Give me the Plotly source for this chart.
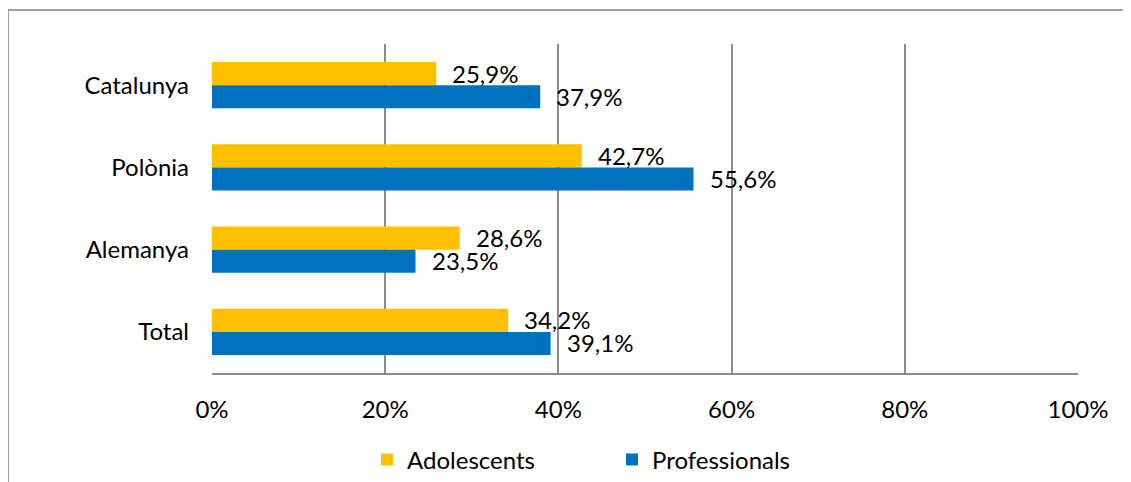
import plotly.graph_objects as go

categories = ["Catalunya", "Polònia", "Alemanya", "Total"]
adolescents = [25.9, 42.7, 28.6, 34.2]
professionals = [37.9, 55.6, 23.5, 39.1]
tick_vals = [0, 20, 40, 60, 80, 100]
tick_text = ["0%", "20%", "40%", "60%", "80%", "100%"]

YELLOW = "#FFC000"
BLUE = "#0070C0"
GRID = "#8C8C8C"
FONT = "Lato"
FS = 24

def fmt(v):
    return f"{v:.1f}".replace(".", ",") + "%"

fig = go.Figure()
fig.add_trace(go.Bar(y=categories, x=adolescents, orientation="h", name="Adolescents",
                     marker=dict(color=YELLOW, line=dict(width=0))))
fig.add_trace(go.Bar(y=categories, x=professionals, orientation="h", name="Professionals",
                     marker=dict(color=BLUE, line=dict(width=0))))

annotations = []
for c, a, p in zip(categories, adolescents, professionals):
    annotations.append(dict(x=a, y=c, xref="x", yref="y", text=fmt(a), showarrow=False,
                            xanchor="left", yanchor="middle", xshift=14, yshift=12,
                            font=dict(family=FONT, size=FS, color="#000")))
    annotations.append(dict(x=p, y=c, xref="x", yref="y", text=fmt(p), showarrow=False,
                            xanchor="left", yanchor="middle", xshift=14, yshift=-11,
                            font=dict(family=FONT, size=FS, color="#000")))

fig.update_layout(
    width=1123, height=474,
    margin=dict(l=204, r=53, t=36, b=109, autoexpand=False),
    paper_bgcolor="white", plot_bgcolor="white",
    barmode="group", bargap=0.44, bargroupgap=0,
    font=dict(family=FONT, size=FS, color="#000"),
    xaxis=dict(range=[0, 100], tickvals=tick_vals, ticktext=tick_text,
               showgrid=True, gridcolor=GRID, gridwidth=2,
               showline=True, linecolor=GRID, linewidth=2, zeroline=False,
               ticks="", ticklabelstandoff=14, fixedrange=True),
    yaxis=dict(autorange="reversed", showgrid=False, showline=False, zeroline=False,
               ticks="", ticklabelstandoff=22),
    legend=dict(orientation="h", x=0.179, y=-0.264, xanchor="left", yanchor="middle",
                entrywidth=200, entrywidthmode="pixels",
                font=dict(family=FONT, size=FS)),
    annotations=annotations,
    shapes=[dict(type="path", xref="paper", yref="paper",
                 path="M -0.2356,-0.4 L -0.2356,1.1033 L 1.08,1.1033",
                 line=dict(color="#A0A0A0", width=2))],
)

fig.write_html("out.html")
